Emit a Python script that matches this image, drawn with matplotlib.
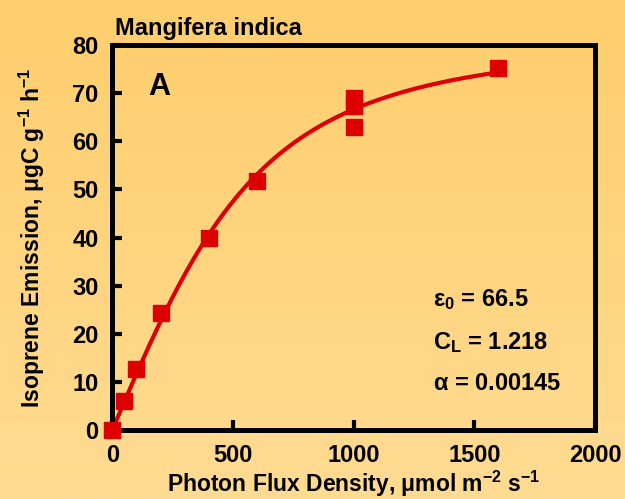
import numpy as np
import matplotlib
matplotlib.use("Agg")
import matplotlib.pyplot as plt
from matplotlib.colors import LinearSegmentedColormap

# measured points (PFD, isoprene emission)
pfd = [0, 50, 100, 200, 400, 600, 1000, 1000, 1000, 1600]
emission = [0, 6.0, 12.7, 24.3, 39.9, 51.8, 69.0, 67.4, 63.0, 75.3]

# fitted light-response parameters shown on the chart
eps0 = 66.5
c_l = 1.218
alpha = 0.00145

plt.rcParams['font.family'] = ['Liberation Sans', 'DejaVu Sans']
plt.rcParams['font.weight'] = 'bold'
plt.rcParams['mathtext.fontset'] = 'custom'
plt.rcParams['mathtext.rm'] = 'Liberation Sans'
plt.rcParams['mathtext.bf'] = 'Liberation Sans:bold'
plt.rcParams['mathtext.it'] = 'Liberation Sans:italic'

fig = plt.figure(figsize=(6.25, 4.99), dpi=100)

# orange gradient background
bg = fig.add_axes([0, 0, 1, 1], zorder=-10)
bg.axis('off')
grad_cmap = LinearSegmentedColormap.from_list('bg', ['#FFCE6D', '#FFDB92'])
bg.imshow(np.linspace(0, 1, 256).reshape(-1, 1), aspect='auto', cmap=grad_cmap,
          extent=[0, 1, 0, 1])

ax = fig.add_axes([0.1797, 0.1387, 0.7723, 0.7705])
ax.patch.set_alpha(0)

q = np.linspace(0, 1600, 300)
fit = eps0 * alpha * c_l * q / np.sqrt(1 + alpha ** 2 * q ** 2)
ax.plot(q, fit, color='#DD0000', lw=3.0, zorder=2)
ax.plot(pfd, emission, 's', color='#DD0000', ms=11, mec='#DD0000', zorder=3,
        clip_on=False)

ax.set_xlim(0, 2000)
ax.set_ylim(0, 80)
ax.set_xticks([0, 500, 1000, 1500, 2000])
ax.set_yticks(range(0, 90, 10))
ax.tick_params(axis='both', direction='in', width=3, length=7, labelsize=17)
ax.tick_params(axis='x', pad=10)
ax.tick_params(axis='y', pad=10)
for lab in ax.get_xticklabels() + ax.get_yticklabels():
    lab.set_fontweight('bold')
for sp in ax.spines.values():
    sp.set_linewidth(3.6)

ax.set_xlabel(r'Photon Flux Density, $\mathrm{\mu}$mol m$^{\mathbf{-2}}$ s$^{\mathbf{-1}}$',
              fontsize=16.5, fontweight='bold', va='baseline')
ax.xaxis.set_label_coords(0.5, -0.161)
ax.set_ylabel(r'Isoprene Emission, $\mathrm{\mu}$gC g$^{\mathbf{-1}}$ h$^{\mathbf{-1}}$',
              fontsize=16.5, fontweight='bold', va='center')
ax.yaxis.set_label_coords(-0.166, 0.5)

fig.text(0.184, 0.93, 'Mangifera indica', fontsize=17, fontweight='bold',
         ha='left', va='baseline')
ax.text(148, 69.7, 'A', fontsize=22, fontweight='bold', ha='left', va='baseline')

ax.text(1330, 25.7, r'$\mathrm{\varepsilon}_{\mathbf{0}}$ = 66.5', fontsize=17,
        fontweight='bold', ha='left', va='baseline')
ax.text(1330, 16.7, r'C$_{\mathbf{L}}$ = 1.218', fontsize=17,
        fontweight='bold', ha='left', va='baseline')
ax.text(1330, 8.3, r'$\mathrm{\alpha}$ = 0.00145', fontsize=17,
        fontweight='bold', ha='left', va='baseline')

fig.savefig('out.png', dpi=100)
